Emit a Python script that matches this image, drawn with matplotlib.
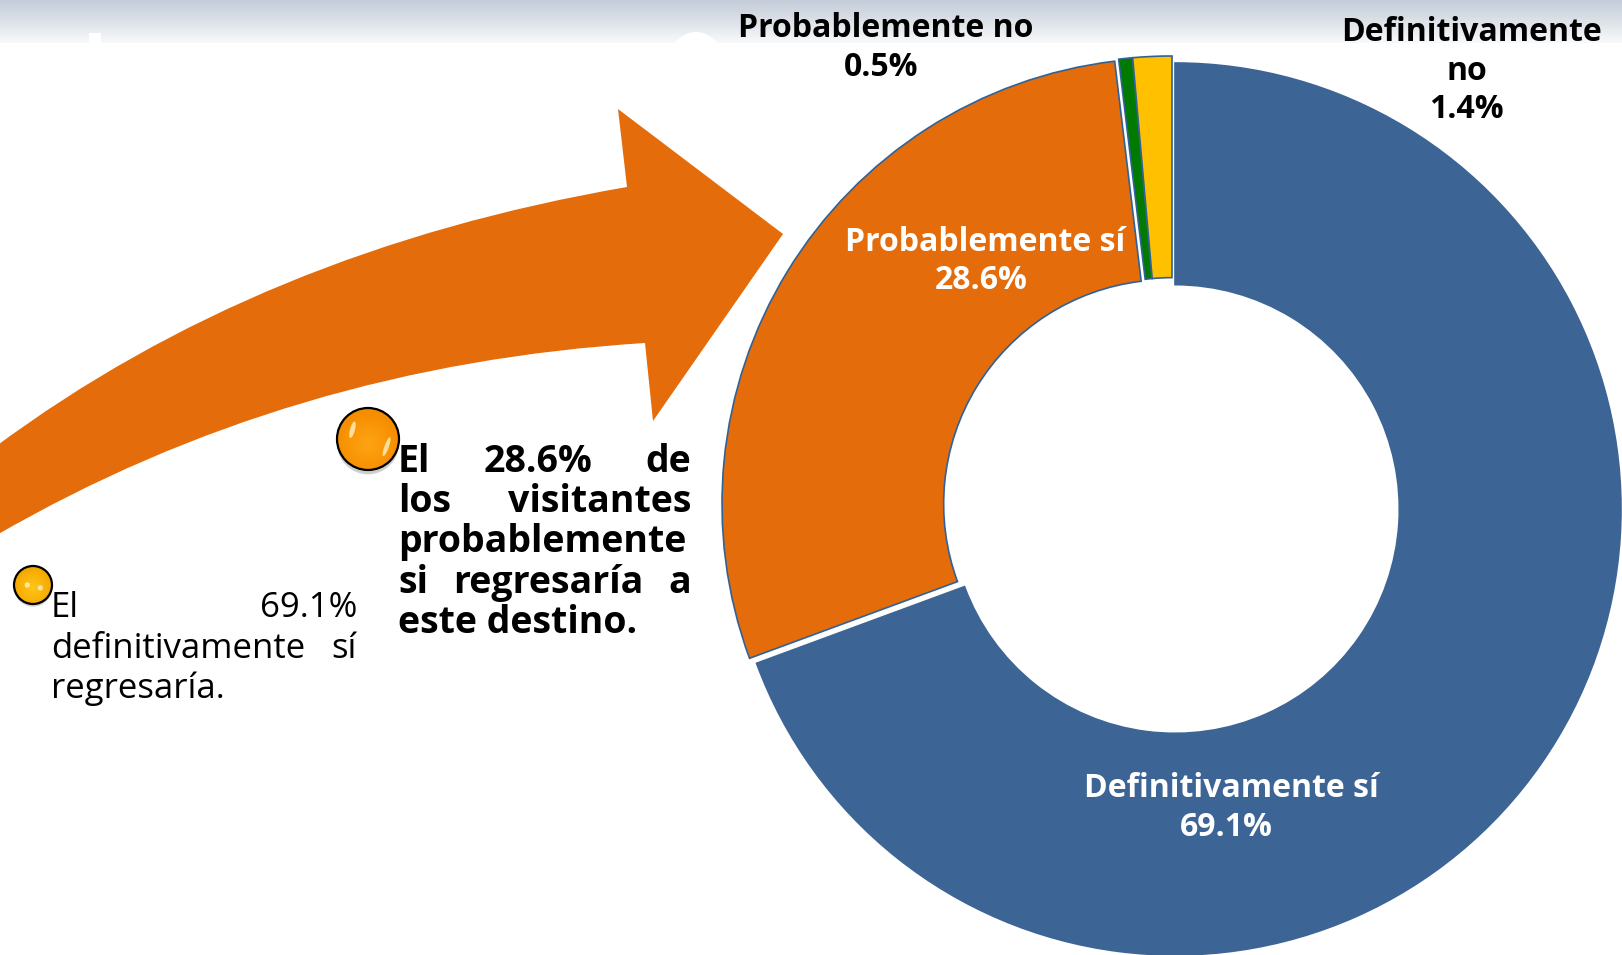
"""Donut of return intention with curved arrow and side notes."""

import matplotlib
matplotlib.use("Agg")
import matplotlib.pyplot as plt
import numpy as np
from matplotlib.colors import LinearSegmentedColormap
from matplotlib.patches import Circle, Ellipse, PathPatch, Rectangle
from matplotlib.path import Path

W, H = 1622, 955

CATEGORIES = ["Definitivamente sí", "Probablemente sí", "Probablemente no", "Definitivamente no"]
VALUES = [69.1, 28.6, 0.5, 1.4]
COLORS = ["#3C6494", "#E46C0A", "#007A00", "#FFC000"]
EDGE = "#2F6299"
ORANGE = "#E46C0A"

NOTE_BOLD = ["El 28.6% de", "los visitantes", "probablemente", "si regresaría a", "este destino."]
NOTE_PLAIN = ["El 69.1%", "definitivamente sí", "regresaría."]

plt.rcParams["font.family"] = ["Open Sans", "DejaVu Sans"]


def Y(y):
    # picture rows run downward, the axes upward
    return H - y


def justified(ax, fig, lines, x0, x1, baselines, **kw):
    renderer = fig.canvas.get_renderer()
    for i, (line, base) in enumerate(zip(lines, baselines)):
        words = line.split()
        items = [ax.text(x0, Y(base), w, va="baseline", ha="left", **kw) for w in words]
        if len(words) < 2 or i == len(lines) - 1:
            if len(words) > 1:
                items[0].set_text(line)
                for t in items[1:]:
                    t.remove()
            continue
        widths = [t.get_window_extent(renderer).width for t in items]
        gap = (x1 - x0 - sum(widths)) / (len(words) - 1)
        x = x0
        for t, w in zip(items, widths):
            t.set_x(x)
            x += w + gap


def bullet(ax, cx, cy, r, inner, outer, spots):
    ax.add_patch(Ellipse((cx, Y(cy + r * 0.14)), 2 * r, 2 * r, fc="#777777", ec="none", alpha=0.35))
    yy, xx = np.mgrid[-1:1:160j, -1:1:160j]
    dist = np.clip(np.hypot(xx, yy + 0.15), 0, 1)
    cmap = LinearSegmentedColormap.from_list("ball", [inner, outer])
    im = ax.imshow(dist, cmap=cmap, extent=(cx - r, cx + r, Y(cy + r), Y(cy - r)), zorder=3, origin="lower")
    ring = Circle((cx, Y(cy)), r, fc="none", ec="black", lw=1.6, zorder=4)
    ax.add_patch(ring)
    im.set_clip_path(ring)
    for dx, dy, w, h, angle in spots:
        ax.add_patch(Ellipse((cx + dx * r, Y(cy + dy * r)), w * r, h * r, angle=angle,
                             fc="#FFF0C0", ec="none", alpha=0.8, zorder=5))


fig = plt.figure(figsize=(W / 100, H / 100), dpi=100)
ax = fig.add_axes([0, 0, 1, 1])

# header band
band = np.linspace(0, 1, 44).reshape(-1, 1)
band_cmap = LinearSegmentedColormap.from_list("band", ["#C4CDD9", "#DDE2E8", "#F8F9FA"])
ax.imshow(band, cmap=band_cmap, extent=(0, W, Y(43), Y(0)), aspect="auto", zorder=0)
ax.add_patch(Rectangle((89, Y(43)), 12, 10, fc="white", ec="none", zorder=1))
ax.add_patch(Circle((696, Y(57)), 25, fc="white", ec="none", zorder=1))

# donut
cx, cy, radius = 1175, 509, 446
wedges, _ = ax.pie(
    VALUES, colors=COLORS, startangle=90, counterclock=False, center=(cx, Y(cy)), radius=radius,
    frame=True, wedgeprops={"width": radius * 0.497, "edgecolor": EDGE, "linewidth": 1.2},
)
offsets = [(0, 0), (-7, 5), (-3, 7), (-3, 7)]
for wedge, (dx, dy) in zip(wedges, offsets):
    wedge.set_center((cx + dx, Y(cy) + dy))
wedges[0].set_edgecolor(COLORS[0])

# arrow
verts = [(-5, 447), (260, 250), (627, 187), (618, 109), (783, 234), (653, 421), (645, 343),
         (290, 365), (-5, 536), (-5, 447)]
codes = [Path.MOVETO, Path.CURVE3, Path.CURVE3, Path.LINETO, Path.LINETO, Path.LINETO, Path.LINETO,
         Path.CURVE3, Path.CURVE3, Path.CLOSEPOLY]
ax.add_patch(PathPatch(Path([(x, Y(y)) for x, y in verts], codes), fc=ORANGE, ec="none", zorder=2))

# slice labels
pct = [f"{v}%" for v in VALUES]
lab = {"fontweight": "bold", "fontsize": 23, "ha": "center", "va": "baseline"}
ax.text(886, Y(37), CATEGORIES[2], color="black", **lab)
ax.text(881, Y(76), pct[2], color="black", **lab)
ax.text(1471, Y(41), "Definitivamente", color="black", **lab)
ax.text(1467, Y(80), "no", color="black", **lab)
ax.text(1466, Y(118), pct[3], color="black", **lab)
ax.text(985, Y(251), CATEGORIES[1], color="white", **lab)
ax.text(981, Y(289), pct[1], color="white", **lab)
ax.text(1231, Y(797), CATEGORIES[0], color="white", **lab)
ax.text(1226, Y(836), pct[0], color="white", **lab)

# side notes
justified(ax, fig, NOTE_BOLD, 398, 691, [472, 512, 552, 593, 633],
          fontsize=27, fontweight="bold", color="black")
justified(ax, fig, NOTE_PLAIN, 51, 357, [617, 658, 698], fontsize=25, color="black")

bullet(ax, 368, 439, 31, "#FFA412", "#F58E00", [(-0.5, -0.3, 0.16, 0.55, -15), (0.6, 0.25, 0.14, 0.65, -20)])
bullet(ax, 33, 585, 19, "#FFC61A", "#F5A800", [(-0.3, 0, 0.28, 0.28, 0), (0.38, 0.15, 0.28, 0.28, 0)])

ax.set_xlim(0, W)
ax.set_ylim(0, H)
ax.set_aspect("auto")
ax.axis("off")

fig.savefig("out.png", dpi=100, facecolor="white")
